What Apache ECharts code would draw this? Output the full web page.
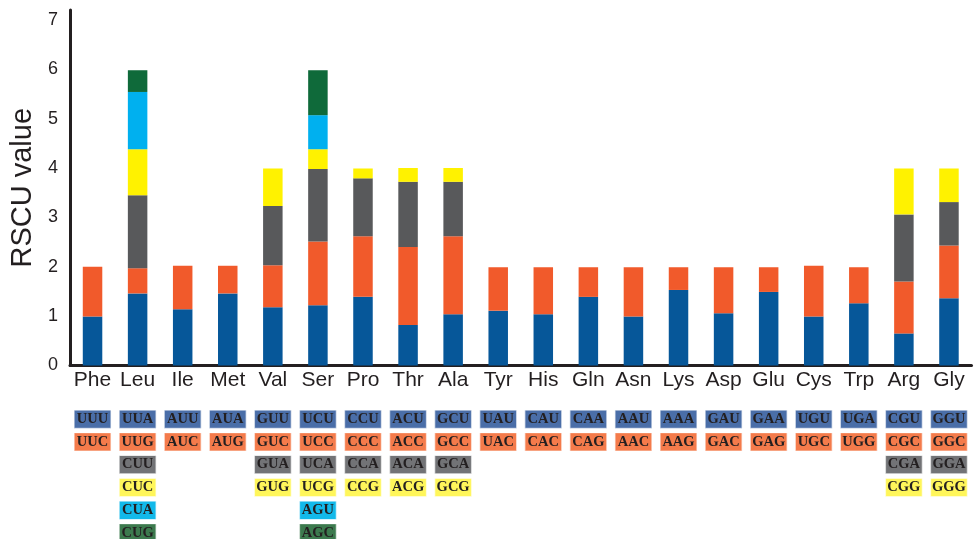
<!DOCTYPE html>
<html>
<head>
<meta charset="utf-8">
<script src="https://cdn.jsdelivr.net/npm/echarts@6/dist/echarts.min.js"></script>
<style>
  html, body { margin: 0; padding: 0; background: #fff; }
  #chart { width: 975px; height: 539px; }
</style>
</head>
<body>
<div id="chart"></div>
<script>
  var aminoAcids = ['Phe', 'Leu', 'Ile', 'Met', 'Val', 'Ser', 'Pro', 'Thr', 'Ala', 'Tyr',
                    'His', 'Gln', 'Asn', 'Lys', 'Asp', 'Glu', 'Cys', 'Trp', 'Arg', 'Gly'];

  // RSCU of the 1st..6th codon of each amino acid (null = no such codon)
  var codon1 = [0.99, 1.46, 1.14, 1.46, 1.18, 1.22, 1.39, 0.82, 1.04, 1.11, 1.04, 1.39, 0.99, 1.53, 1.06, 1.49, 0.99, 1.26, 0.65, 1.36];
  var codon2 = [1.01, 0.51, 0.88, 0.56, 0.85, 1.29, 1.23, 1.58, 1.58, 0.88, 0.95, 0.60, 1.00, 0.46, 0.93, 0.50, 1.03, 0.73, 1.05, 1.07];
  var codon3 = [null, 1.48, null, null, 1.20, 1.47, 1.17, 1.32, 1.10, null, null, null, null, null, null, null, null, null, 1.36, 0.88];
  var codon4 = [null, 0.93, null, null, 0.76, 0.40, 0.20, 0.28, 0.28, null, null, null, null, null, null, null, null, null, 0.93, 0.68];
  var codon5 = [null, 1.16, null, null, null, 0.69, null, null, null, null, null, null, null, null, null, null, null, null, null, null];
  var codon6 = [null, 0.44, null, null, null, 0.91, null, null, null, null, null, null, null, null, null, null, null, null, null, null];

  var codons = [
    ['UUU', 'UUC'],
    ['UUA', 'UUG', 'CUU', 'CUC', 'CUA', 'CUG'],
    ['AUU', 'AUC'],
    ['AUA', 'AUG'],
    ['GUU', 'GUC', 'GUA', 'GUG'],
    ['UCU', 'UCC', 'UCA', 'UCG', 'AGU', 'AGC'],
    ['CCU', 'CCC', 'CCA', 'CCG'],
    ['ACU', 'ACC', 'ACA', 'ACG'],
    ['GCU', 'GCC', 'GCA', 'GCG'],
    ['UAU', 'UAC'],
    ['CAU', 'CAC'],
    ['CAA', 'CAG'],
    ['AAU', 'AAC'],
    ['AAA', 'AAG'],
    ['GAU', 'GAC'],
    ['GAA', 'GAG'],
    ['UGU', 'UGC'],
    ['UGA', 'UGG'],
    ['CGU', 'CGC', 'CGA', 'CGG'],
    ['GGU', 'GGC', 'GGA', 'GGG']
  ];

  var barColors = ['#065799', '#f15a2b', '#58595b', '#fff200', '#00b0ef', '#0f6a3a'];
  var boxColors = ['#4a6ea8', '#f47b4b', '#727376', '#fff65a', '#12b9ea', '#3c7a4e'];

  var ink = '#231f20';

  var barSeries = [codon1, codon2, codon3, codon4, codon5, codon6].map(function (vals, i) {
    return {
      type: 'bar',
      name: 'codon' + (i + 1),
      stack: 'rscu',
      barWidth: 19.5,
      xAxisIndex: 0,
      yAxisIndex: 0,
      itemStyle: { color: barColors[i] },
      data: vals
    };
  });

  // codon cells below the chart: [amino acid index, row, codon]
  var cells = [];
  codons.forEach(function (list, aa) {
    list.forEach(function (c, row) {
      cells.push([aa, row, c]);
    });
  });

  var chart = echarts.init(document.getElementById('chart'));

  chart.setOption({
    animation: false,
    grid: [
      { left: 70, right: 3.5, top: 10, bottom: 173.5 },
      { left: 70, right: 3.5, top: 407.8, bottom: 6 }
    ],
    xAxis: [
      {
        gridIndex: 0,
        type: 'category',
        data: aminoAcids,
        axisLine: { lineStyle: { color: ink, width: 3 } },
        axisTick: { show: false },
        axisLabel: {
          interval: 0,
          margin: 4,
          fontSize: 21,
          color: ink,
          fontFamily: 'Liberation Sans'
        }
      },
      {
        gridIndex: 1,
        type: 'category',
        data: aminoAcids,
        show: false
      }
    ],
    yAxis: [
      {
        gridIndex: 0,
        type: 'value',
        min: 0,
        max: 7.2,
        interval: 1,
        name: 'RSCU value',
        nameLocation: 'middle',
        nameRotate: 90,
        nameGap: 29,
        nameTextStyle: { fontSize: 29, color: ink, fontFamily: 'Liberation Sans' },
        splitLine: { show: false },
        axisTick: { show: false },
        axisLine: { show: true, lineStyle: { color: ink, width: 3 } },
        axisLabel: {
          margin: 12,
          fontSize: 18,
          color: ink,
          fontFamily: 'Liberation Sans',
          formatter: function (v) {
            return v % 1 === 0 ? String(v) : '';
          }
        }
      },
      {
        gridIndex: 1,
        type: 'value',
        min: -0.5,
        max: 5,
        inverse: true,
        show: false
      }
    ],
    series: barSeries.concat([{
      type: 'scatter',
      xAxisIndex: 1,
      yAxisIndex: 1,
      clip: false,
      symbol: 'rect',
      symbolSize: [37, 18],
      itemStyle: {
        opacity: 1,
        color: function (p) { return boxColors[p.data[1]]; },
        borderColor: 'rgba(255,255,255,0.6)',
        borderWidth: 1
      },
      label: {
        show: true,
        position: 'inside',
        formatter: function (p) { return p.data[2]; },
        color: ink,
        fontSize: 14.5,
        fontWeight: 'bold',
        fontFamily: 'Liberation Serif'
      },
      data: cells
    }])
  });
</script>
</body>
</html>
